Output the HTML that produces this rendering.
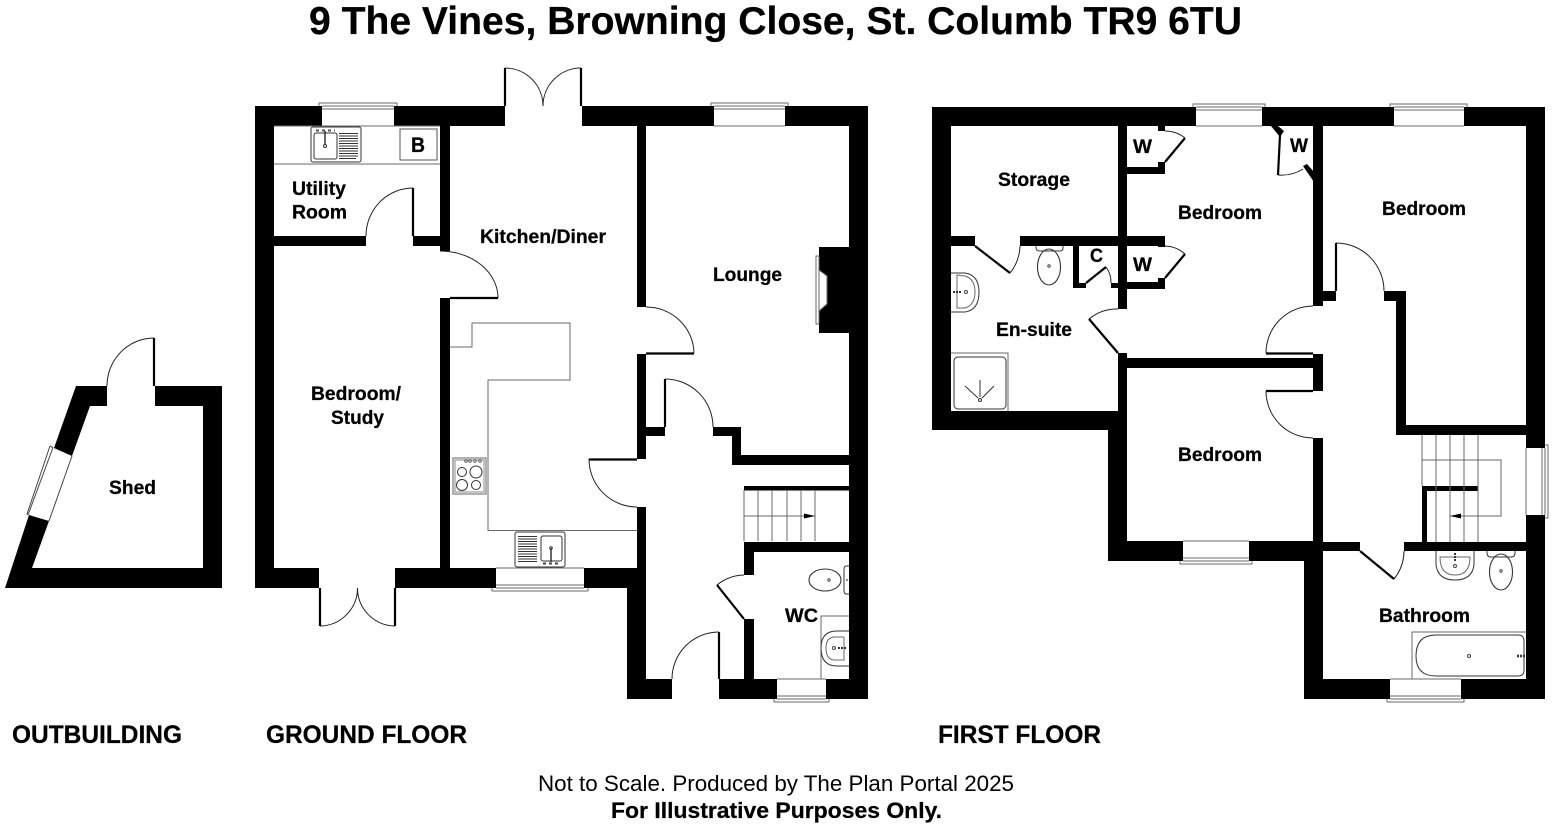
<!DOCTYPE html>
<html><head><meta charset="utf-8"><title>9 The Vines Floor Plan</title>
<style>
html,body{margin:0;padding:0;background:#fff}
svg{display:block}
text{font-family:"Liberation Sans",sans-serif;fill:#000}
.b{font-weight:bold;font-size:19px;stroke:#000;stroke-width:.25}
.t{stroke:#000;stroke-width:.25}
.d{fill:none;stroke:#222;stroke-width:1}
.l{fill:none;stroke:#000;stroke-width:2.2}
.g{fill:none;stroke:#6a6a6a;stroke-width:1}
.k{fill:none;stroke:#444;stroke-width:1}
.h{fill:none;stroke:#333;stroke-width:1}
.s{stroke:#333;stroke-width:1.100;fill:none}
</style></head><body>
<svg xmlns="http://www.w3.org/2000/svg" width="1552" height="827" viewBox="0 0 1552 827">
<rect width="1552" height="827" fill="#fff"/>

<!-- Text -->
<text class="t" x="309" y="34" font-size="38.5" font-weight="bold" textLength="933" lengthAdjust="spacingAndGlyphs">9 The Vines, Browning Close, St. Columb TR9 6TU</text>
<text class="t" x="12" y="743" font-size="25" font-weight="bold" textLength="170" lengthAdjust="spacingAndGlyphs">OUTBUILDING</text>
<text class="t" x="266" y="743" font-size="25" font-weight="bold" textLength="201" lengthAdjust="spacingAndGlyphs">GROUND FLOOR</text>
<text class="t" x="938" y="743" font-size="25" font-weight="bold" textLength="163" lengthAdjust="spacingAndGlyphs">FIRST FLOOR</text>
<text x="538" y="791" font-size="22.5" textLength="476" lengthAdjust="spacingAndGlyphs">Not to Scale. Produced by The Plan Portal 2025</text>
<text class="t" x="611" y="818" font-size="22" font-weight="bold" textLength="331" lengthAdjust="spacingAndGlyphs">For Illustrative Purposes Only.</text>

<!-- Shed -->
<path fill="#000" fill-rule="evenodd" d="M76 386H107V406H90L72 456L54 448ZM155 386H222V588H5L29 515L49 521L32 568H203V406H155Z"/>
<path class="d" d="M154 338A47 48 0 0 0 107 386"/>
<path class="l" d="M154 338V386"/>
<path class="k" stroke-width="0.8" d="M72 456L49 521M53 447.500L28 515M50 446L27 514M50 446L53 447.500M27 514L28 515"/>
<text class="b" x="109" y="494" textLength="47" lengthAdjust="spacingAndGlyphs">Shed</text>

<!-- Ground floor walls -->
<g fill="#000">
<rect x="255" y="106" width="19" height="482"/>
<rect x="255" y="106" width="67" height="20"/>
<rect x="394" y="106" width="111" height="20"/>
<rect x="582" y="106" width="132" height="20"/>
<rect x="785" y="106" width="83" height="20"/>
<rect x="849" y="106" width="19" height="593"/>
<rect x="255" y="568" width="64" height="20"/>
<rect x="395" y="568" width="101" height="20"/>
<rect x="584" y="568" width="62" height="20"/>
<rect x="440" y="126" width="10" height="125"/>
<rect x="440" y="298" width="10" height="270"/>
<rect x="274" y="236" width="92" height="10"/>
<rect x="413" y="236" width="27" height="10"/>
<rect x="637" y="126" width="9" height="181"/>
<rect x="637" y="354" width="9" height="105"/>
<rect x="637" y="507" width="9" height="61"/>
<rect x="627" y="568" width="19" height="131"/>
<rect x="627" y="679" width="45" height="20"/>
<rect x="719" y="679" width="58" height="20"/>
<rect x="826" y="679" width="42" height="20"/>
<rect x="646" y="427" width="19" height="9"/>
<rect x="713" y="427" width="28" height="9"/>
<rect x="732" y="427" width="9" height="38"/>
<rect x="732" y="455" width="117" height="10"/>
<rect x="744" y="486" width="105" height="4.500"/>
<rect x="744" y="542" width="105" height="10"/>
<rect x="744" y="542" width="10" height="33"/>
<rect x="744" y="619" width="10" height="60"/>
<path d="M849 247H819V270L827 276V304L819 311V333H849Z"/>
</g>
<rect class="g" x="816" y="256" width="3" height="68"/>
<path class="g" d="M819 270L827 276V304L819 311"/>

<!-- Ground windows -->
<g class="g">
<path d="M322 126H394M322 106H394M322 109H394M319 106V103H397V106"/>
<path d="M714 126H785M714 106H785M714 109H785M711 106V103H788V106"/>
<path d="M496 568H584M496 585H584M496 588H584M492 588V591H588V588"/>
<path d="M777 679H826M777 696H826M777 699H826M774 699V702H829V699"/>
</g>

<!-- Ground doors -->
<path class="d" d="M505 68A38 38 0 0 1 543 106M581 68A38 38 0 0 0 543 106"/>
<path class="l" d="M505 68V106M581 68V106" stroke-width="1.800"/>
<path class="d" d="M320 626A38 38 0 0 0 357.500 588M395 626A38 38 0 0 1 357.500 588"/>
<path class="l" d="M320 588V626M395 588V626" stroke-width="1.800"/>
<path class="d" d="M413 188A47 48 0 0 0 366 236"/><path class="l" d="M413 188V236"/>
<path class="d" d="M440 251A58 47 0 0 1 498 298"/><path class="l" d="M450 298H498"/>
<path class="d" d="M646 307A48 47 0 0 1 694 353"/><path class="l" d="M646 353.500H694"/>
<path class="d" d="M665 379A48 48 0 0 1 713 427"/><path class="l" d="M665 379V427"/>
<path class="d" d="M589 459A48 48 0 0 0 637 507"/><path class="l" d="M589 459.500H637"/>
<path class="d" d="M719 632A47 47 0 0 0 672 679"/><path class="l" d="M719 632V679"/>
<path class="d" d="M717 585A44 44 0 0 1 744 575"/><path class="l" stroke-width="2.800" d="M717 585L744 619"/>

<!-- Ground fixtures -->
<path class="g" d="M274 126H440M274 164H440"/>
<rect x="311" y="127" width="50" height="35" rx="2" class="h"/>
<rect x="314" y="133" width="23" height="26" rx="2" class="h"/>
<path d="M325 131V145" stroke="#333" stroke-width="1.500"/>
<circle cx="325" cy="146" r="1.500" fill="none" stroke="#333"/>
<path d="M316 130.500H335" stroke="#555" stroke-width="2" stroke-dasharray="3 3"/>
<path d="M339 133.500H358M339 136H358M339 138.500H358M339 141H358M339 143.500H358M339 146H358M339 148.500H358M339 151H358M339 153.500H358M339 156H358M339 158.500H356" stroke="#333" stroke-width=".9"/>
<rect x="400" y="129" width="37" height="31" fill="none" stroke="#555" stroke-width="1"/>
<text class="t" x="411" y="152" font-size="21" font-weight="bold" textLength="14" lengthAdjust="spacingAndGlyphs">B</text>

<path class="g" d="M450 347H472V323H570V380H488V530.500H637"/>
<rect x="453" y="458" width="33" height="36" fill="none" stroke="#666"/>
<rect x="455" y="460" width="29" height="32" fill="none" stroke="#888"/>
<g class="h"><circle cx="462" cy="472" r="4.500"/><circle cx="476" cy="472" r="6"/><circle cx="462" cy="485" r="5.500"/><circle cx="476" cy="485" r="4.500"/></g>
<g fill="none" stroke="#444" stroke-width=".8"><circle cx="466" cy="461" r="1.300"/><circle cx="470" cy="461" r="1.300"/><circle cx="475" cy="461" r="1.300"/><circle cx="480" cy="461" r="1.300"/></g>
<rect x="515" y="532" width="50" height="35" rx="2" class="h"/>
<rect x="541" y="536" width="21" height="25" rx="2" class="h"/>
<path d="M551 548V562" stroke="#333" stroke-width="1.500"/><circle cx="551" cy="548" r="1.300" fill="none" stroke="#333"/>
<path d="M543 563.500H561" stroke="#444" stroke-width="2" stroke-dasharray="3 3"/>
<path d="M518 536.500H537M518 539H537M518 541.500H537M518 544H537M518 546.500H537M518 549H537M518 551.500H537M518 554H537M518 556.500H537M518 559H537M518 561.500H537" stroke="#333" stroke-width=".9"/>

<g class="g"><path d="M744 490V541M758 490V541M772 490V541M787 490V541M801 490V541M815 490V541M744 516H815"/></g>
<path d="M804 513.500L815 516L804 518.500Z" fill="#000"/>

<ellipse cx="825" cy="580" rx="16" ry="11" fill="#fff" class="s"/>
<circle cx="829" cy="580" r="1.200" fill="none" stroke="#444"/>
<path class="h" d="M849 566H846Q844 566 844 570V590Q844 594 846 594H849"/>
<circle cx="847" cy="580" r=".9" fill="#333"/>
<path class="g" d="M849 616H821V679"/>
<path class="h" d="M849 631H837Q821 631 821 648Q821 666 837 666H849"/>
<path class="g" d="M844 637H835Q826 637 826 648Q826 660 835 660H844V637"/>
<circle cx="834" cy="648" r="1.500" fill="none" stroke="#444"/>
<path d="M838 648H847" stroke="#333" stroke-width="2" stroke-dasharray="2 1"/>

<!-- First floor walls -->
<g fill="#000">
<rect x="932" y="107" width="19" height="323"/>
<rect x="932" y="107" width="264" height="19"/>
<rect x="1262" y="107" width="132" height="19"/>
<rect x="1464" y="107" width="81" height="19"/>
<rect x="1526" y="107" width="19" height="341"/>
<rect x="1526" y="515" width="19" height="184"/>
<rect x="932" y="411" width="195" height="19"/>
<rect x="1108" y="411" width="19" height="150"/>
<rect x="1118" y="126" width="9" height="183"/>
<rect x="1118" y="353" width="9" height="60"/>
<rect x="1127" y="167" width="38" height="7"/>
<rect x="1158" y="162" width="7" height="12"/>
<rect x="1158" y="126" width="7" height="5"/>
<rect x="951" y="236" width="24" height="10"/>
<rect x="1020" y="236" width="145" height="10"/>
<rect x="1158" y="240" width="7" height="7"/>
<rect x="1127" y="282" width="38" height="7"/>
<rect x="1158" y="278" width="7" height="11"/>
<rect x="1073" y="246" width="6" height="42"/>
<rect x="1073" y="283" width="13" height="5"/>
<rect x="1111" y="283" width="7" height="5"/>
<rect x="1127" y="358" width="187" height="10"/>
<rect x="1313" y="126" width="10" height="180"/>
<rect x="1313" y="354" width="10" height="37"/>
<rect x="1313" y="438" width="10" height="104"/>
<rect x="1323" y="291" width="13" height="10"/>
<rect x="1384" y="291" width="22" height="10"/>
<rect x="1396" y="291" width="10" height="144"/>
<rect x="1396" y="425" width="130" height="10"/>
<rect x="1108" y="541" width="75" height="20"/>
<rect x="1249" y="541" width="55" height="20"/>
<rect x="1304" y="541" width="19" height="158"/>
<rect x="1323" y="542" width="37" height="9"/>
<rect x="1404" y="542" width="122" height="9"/>
<rect x="1304" y="679" width="86" height="20"/>
<rect x="1461" y="679" width="84" height="20"/>
<rect x="1422" y="486" width="56" height="5"/>
<rect x="1422" y="486" width="5" height="56"/>
<path d="M1271 126H1278L1284 131L1280 137Z"/>
<path d="M1303 166L1307 164L1314 172V182Z"/>
</g>

<!-- First windows -->
<g class="g">
<path d="M1196 126H1262M1196 107H1262M1196 110H1262M1193 107V104H1265V107"/>
<path d="M1394 126H1464M1394 107H1464M1394 110H1464M1390 107V104H1467V107"/>
<path d="M1183 541H1249M1183 558H1249M1183 561H1249M1180 561V564H1252V561"/>
<path d="M1390 679H1461M1390 696H1461M1390 699H1461M1387 699V702H1464V699"/>
<path d="M1526 448V515M1542 448V515M1545 448V515M1545 445H1548V518H1545"/>
</g>

<!-- First doors -->
<path class="d" d="M1185 138A32 32 0 0 0 1165 131"/><path class="l" d="M1165 162L1185 138"/>
<path class="d" d="M1185 254A32 32 0 0 0 1165 246"/><path class="l" d="M1165 278L1185 254"/>
<path class="d" d="M1010 273A45 45 0 0 0 1020 246"/><path class="l" stroke-width="2.400" d="M975 246L1010 273"/>
<path class="d" d="M1089 319A44 44 0 0 1 1118 309"/><path class="l" d="M1118 353L1089 319"/>
<path class="d" d="M1106 267A25 25 0 0 1 1111 283"/><path class="l" stroke-width="2.400" d="M1086 283L1106 267"/>
<path class="d" d="M1278 175A40 40 0 0 0 1303 169"/><path class="l" stroke-width="1.800" d="M1280 135L1278 175"/>
<path class="d" d="M1394 579A45 45 0 0 0 1404 551"/><path class="l" stroke-width="2.600" d="M1360 551L1394 579"/>
<path class="d" d="M1266 353A47 47 0 0 1 1313 306"/><path class="l" stroke-width="1.800" d="M1266 353.500H1313"/>
<path class="d" d="M1266 391A47 47 0 0 0 1313 438"/><path class="l" stroke-width="1.800" d="M1266 391H1313"/>
<path class="d" d="M1336 243A48 48 0 0 1 1384 291"/><path class="l" d="M1336 243V291"/>

<!-- First fixtures -->
<ellipse cx="1049" cy="267" rx="11.500" ry="18" fill="#fff" class="s"/>
<circle cx="1049" cy="266" r="1.200" fill="none" stroke="#444"/>
<path class="h" d="M1036 246V248Q1036 251 1040 251H1060Q1063 251 1063 248V246"/>
<path class="h" d="M951 273H965Q979 275 979 292Q979 310 965 312H951"/>
<path class="g" d="M957 275V308H965Q975 305 975 292Q975 279 965 276Z"/>
<path d="M953 292H961" stroke="#333" stroke-width="2" stroke-dasharray="2 1"/><circle cx="966" cy="292" r="1.500" fill="none" stroke="#444"/>
<path class="g" d="M951 353H1008V411"/>
<rect x="954" y="357" width="52" height="52" rx="4" class="h"/>
<circle cx="980" cy="400" r="1.500" fill="none" stroke="#333"/>
<path class="h" stroke-width=".8" d="M980 380V397M965 386L978 398M994 386L982 398"/>

<g class="g"><path d="M1422 435V486M1436 435V542M1450 435V542M1464 435V542M1478 435V542M1422 460H1501V516H1450"/></g>
<path d="M1461 513.500L1450 516L1461 518.500Z" fill="#000"/>

<ellipse cx="1501" cy="572" rx="11.500" ry="18" fill="#fff" class="s"/>
<circle cx="1501" cy="571" r="1.200" fill="none" stroke="#444"/>
<path class="h" d="M1487 551V553Q1487 557 1491 557H1511Q1515 557 1515 553V551"/>
<path class="h" d="M1436 551V565Q1438 580 1455 580Q1472 580 1474 565V551"/>
<path class="g" d="M1440 557H1470Q1470 575 1455 575Q1440 575 1440 557Z"/>
<path d="M1455 553V562" stroke="#333" stroke-width="2" stroke-dasharray="2 1"/><circle cx="1455" cy="566" r="1.500" fill="none" stroke="#444"/>
<path class="g" d="M1526 632H1412V679"/>
<path class="h" d="M1436 635H1518Q1524 635 1524 641V670Q1524 676 1518 676H1436Q1416 676 1416 656Q1416 635 1436 635Z"/>
<circle cx="1469" cy="656" r="1.500" fill="none" stroke="#444"/>
<path d="M1517 656H1525" stroke="#333" stroke-width="2.500" stroke-dasharray="2 1"/>

<!-- Labels -->
<text class="b" x="292" y="195" textLength="54" lengthAdjust="spacingAndGlyphs">Utility</text>
<text class="b" x="292" y="218.500" textLength="55" lengthAdjust="spacingAndGlyphs">Room</text>
<text class="b" x="480" y="243" textLength="126" lengthAdjust="spacingAndGlyphs">Kitchen/Diner</text>
<text class="b" x="713" y="281" textLength="69" lengthAdjust="spacingAndGlyphs">Lounge</text>
<text class="b" x="311" y="400" textLength="90" lengthAdjust="spacingAndGlyphs">Bedroom/</text>
<text class="b" x="331" y="424" textLength="53" lengthAdjust="spacingAndGlyphs">Study</text>
<text class="b" x="785" y="622" textLength="33" lengthAdjust="spacingAndGlyphs">WC</text>
<text class="b" x="998" y="186" textLength="72" lengthAdjust="spacingAndGlyphs">Storage</text>
<text class="b" x="1178" y="219" textLength="84" lengthAdjust="spacingAndGlyphs">Bedroom</text>
<text class="b" x="1133" y="153" textLength="19" lengthAdjust="spacingAndGlyphs">W</text>
<text class="b" x="1290" y="152" textLength="18" lengthAdjust="spacingAndGlyphs">W</text>
<text class="b" x="1133" y="271" textLength="19" lengthAdjust="spacingAndGlyphs">W</text>
<text class="b" x="1090" y="262" textLength="13" lengthAdjust="spacingAndGlyphs">C</text>
<text class="b" x="996" y="336" textLength="76" lengthAdjust="spacingAndGlyphs">En-suite</text>
<text class="b" x="1382" y="215" textLength="84" lengthAdjust="spacingAndGlyphs">Bedroom</text>
<text class="b" x="1178" y="461" textLength="84" lengthAdjust="spacingAndGlyphs">Bedroom</text>
<text class="b" x="1379" y="622" textLength="91" lengthAdjust="spacingAndGlyphs">Bathroom</text>
</svg>
</body></html>
